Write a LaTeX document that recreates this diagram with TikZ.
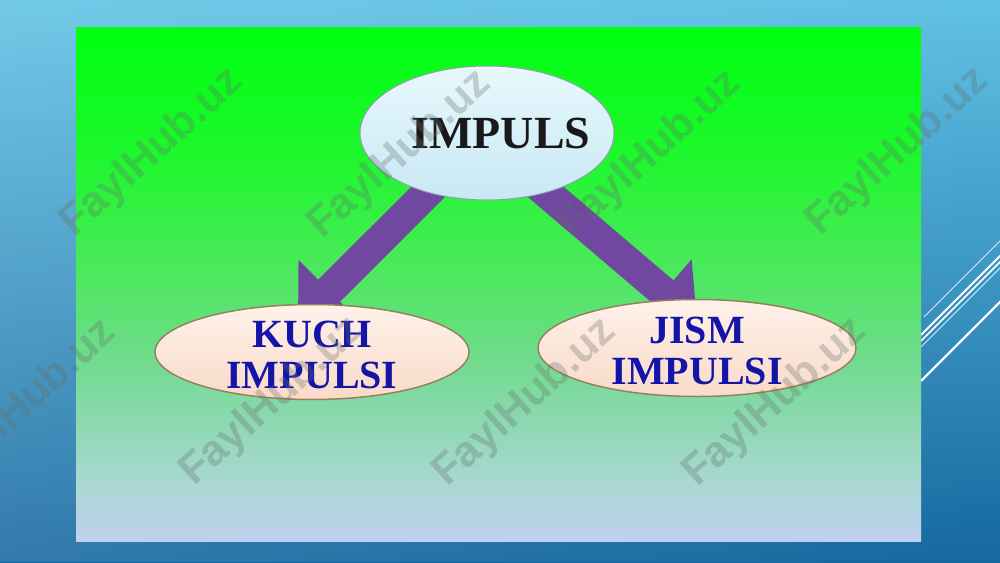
\documentclass[tikz,border=0pt]{standalone}
\usepackage{fontspec}
\setmainfont{Liberation Serif}
\newfontfamily\wmfont{Liberation Sans}
\usetikzlibrary{shapes.geometric,arrows.meta,fadings}
\pgfdeclarelayer{back}
\pgfdeclarelayer{mid}
\pgfsetlayers{back,mid,main}
\definecolor{bgtop}{RGB}{96,194,228}
\definecolor{bgbot}{RGB}{22,104,160}
\definecolor{p0}{RGB}{192,208,240}
\definecolor{p1}{RGB}{168,216,208}
\definecolor{p2}{RGB}{140,216,176}
\definecolor{p3}{RGB}{108,220,136}
\definecolor{p4}{RGB}{72,234,88}
\definecolor{p5}{RGB}{28,248,44}
\definecolor{p6}{RGB}{0,255,16}
\definecolor{arrowpurple}{RGB}{112,72,160}
\definecolor{topfillA}{RGB}{232,248,252}
\definecolor{topfillB}{RGB}{200,232,244}
\definecolor{topborder}{RGB}{140,160,170}
\definecolor{subfillA}{RGB}{255,242,234}
\definecolor{subfillB}{RGB}{248,218,200}
\definecolor{subborder}{RGB}{150,130,90}
\definecolor{labelblue}{RGB}{20,20,168}
\definecolor{wmgray}{RGB}{100,110,105}
\pgfdeclareverticalshading{panelshade}{100bp}{color(0bp)=(p0); color(25bp)=(p0); color(30.9bp)=(p1); color(36.8bp)=(p2); color(43.6bp)=(p3); color(52.3bp)=(p4); color(63bp)=(p5); color(75bp)=(p6); color(100bp)=(p6)}
\newcommand{\twolines}[2]{\makebox[0pt]{\raisebox{-36pt}[0pt][0pt]{\begin{tabular}[b]{@{}c@{}}#1\\#2\end{tabular}}}}
\tikzset{
  topell/.style={ellipse, draw=topborder, line width=1pt, top color=topfillA, bottom color=topfillB,
    minimum width=254pt, minimum height=134pt, inner sep=0pt,
    font=\bfseries\fontsize{46}{46}\selectfont, text=black!90},
  subell/.style={ellipse, draw=subborder, line width=1.5pt, top color=subfillA, bottom color=subfillB,
    inner sep=0pt, font=\bfseries\fontsize{40}{41}\selectfont, text=labelblue},
  bigarrow/.style={draw=arrowpurple, fill=arrowpurple, line width=31pt, -{Triangle[width=84pt,length=44pt]}},
  wm/.style={font=\wmfont\bfseries\fontsize{43}{43}\selectfont, text=wmgray, text opacity=0.3, rotate=42, inner sep=0pt},
  deco/.style={draw=white}
}
\begin{document}
\begin{tikzpicture}[x=1pt,y=-1pt]
\useasboundingbox (0,0) rectangle (1000,562);
\begin{pgfonlayer}{back}
  \shade[top color=bgtop,bottom color=bgbot] (0,0) rectangle (1000,562);
  \fill[white,opacity=0.12,path fading=east] (0,0) rectangle (1000,562);
  \draw[deco, line width=1pt, opacity=0.8] (924,317) -- (1010,231);
  \draw[deco, line width=2pt] (921,335) -- (1010,246);
  \draw[deco, line width=1.5pt] (921,341) -- (1010,252);
  \draw[deco, line width=1pt, opacity=0.8] (921,347) -- (1010,258);
  \draw[deco, line width=2.2pt] (921,381) -- (1010,292);
  \shade[shading=panelshade] (76,27) rectangle (921,541);
\end{pgfonlayer}
\node[topell] (impuls) at (487,133) {\makebox[0pt]{\raisebox{-15pt}[0pt][0pt]{\hspace*{28pt}IMPULS}}};
\node[subell, minimum width=314pt, minimum height=95pt] (kuch) at (312,352) {\twolines{KUCH}{IMPULSI}};
\node[subell, minimum width=318pt, minimum height=97pt] (jism) at (697,348) {\twolines{JISM}{IMPULSI}};
\begin{pgfonlayer}{mid}
  \draw[bigarrow, shorten <=-15pt] (impuls.225) -- ([shift={(-14,18)}]kuch.north);
  \draw[bigarrow, shorten <=-15pt] (impuls.-45) -- ([shift={(0,22)}]jism.north);
\end{pgfonlayer}
\node[wm] (wm1) at (152,153) {FaylHub.uz};
\node[wm] (wm2) at (400,155) {FaylHub.uz};
\node[wm] (wm3) at (650,155) {FaylHub.uz};
\node[wm] (wm4) at (898,152) {FaylHub.uz};
\node[wm] (wm5) at (25,404) {FaylHub.uz};
\node[wm] (wm6) at (272,402) {FaylHub.uz};
\node[wm] (wm7) at (525,403) {FaylHub.uz};
\node[wm] (wm8) at (775,403) {FaylHub.uz};
\end{tikzpicture}
\end{document}
